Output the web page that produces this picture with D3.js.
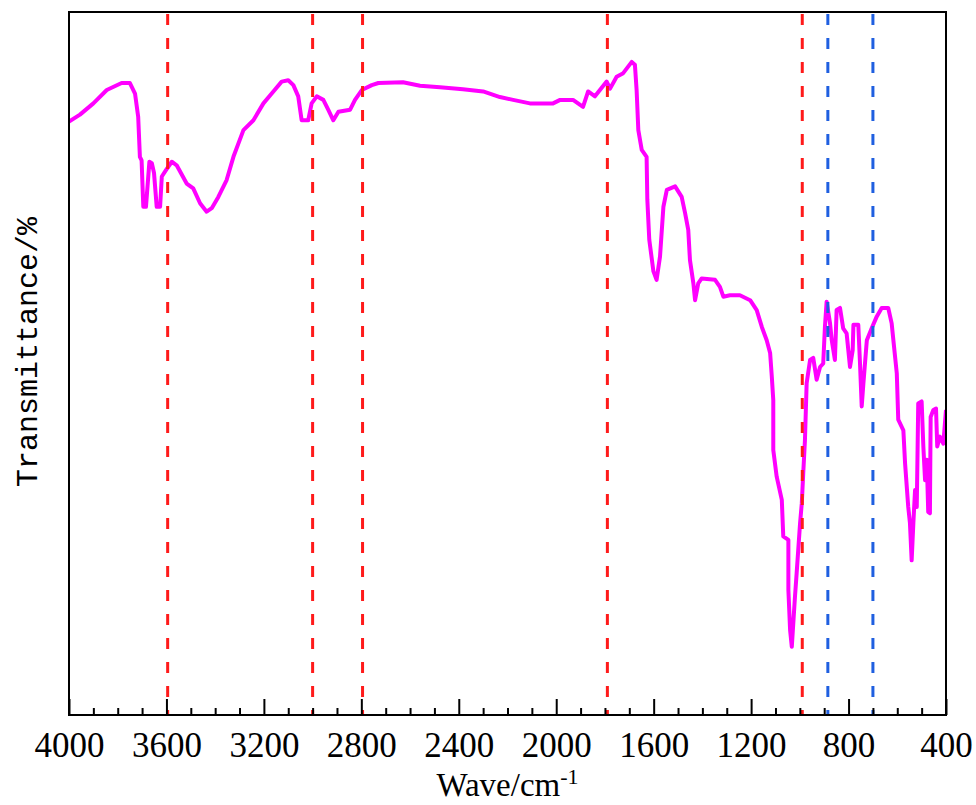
<!DOCTYPE html>
<html>
<head>
<meta charset="utf-8">
<script src="https://cdn.jsdelivr.net/npm/d3@7"></script>
<style>
  body { margin: 0; background: #fff; }
  svg { display: block; }
</style>
</head>
<body>
<div id="chart"></div>
<script>

// FTIR spectrum, wavenumber (cm-1) and relative transmittance
const waveNumbers = [4000, 3955, 3900, 3845, 3784, 3750, 3729, 3716, 3709, 3702, 3695, 3684,
    3670, 3660, 3651, 3640, 3626, 3619, 3602, 3578, 3558, 3517, 3490, 3462, 3435, 3414, 3387,
    3353, 3325, 3284, 3243, 3202, 3161, 3127, 3100, 3079, 3059, 3045, 3018, 3004, 2983, 2956,
    2936, 2915, 2894, 2846, 2826, 2798, 2757, 2730, 2629, 2559, 2477, 2383, 2300, 2231, 2177,
    2108, 2013, 1984, 1931, 1890, 1869, 1841, 1793, 1779, 1752, 1725, 1690, 1677, 1670, 1663,
    1649, 1629, 1626, 1618, 1601, 1588, 1574, 1560, 1546, 1512, 1485, 1471, 1458, 1451, 1437,
    1430, 1417, 1403, 1348, 1328, 1314, 1287, 1246, 1204, 1177, 1156, 1136, 1122, 1115, 1109,
    1109, 1095, 1074, 1068, 1047, 1047, 1040, 1033, 1020, 1013, 999, 992, 986, 979, 972, 958,
    945, 931, 917, 904, 897, 890, 876, 869, 856, 849, 835, 822, 808, 794, 783, 780, 760, 753,
    746, 739, 725, 705, 684, 664, 637, 623, 616, 602, 596, 575, 568, 555, 548, 541, 534, 527,
    520, 514, 500, 493, 486, 479, 473, 466, 463, 452, 441, 436, 425, 411, 400];

const transmittance = [84.4, 85.4, 87.0, 88.9, 89.9, 89.9, 88.4, 85.1, 79.4, 78.9, 72.3, 72.3,
    78.7, 78.5, 77.1, 72.3, 72.3, 76.6, 77.5, 78.7, 78.2, 75.6, 74.9, 72.8, 71.6, 72.1, 73.7,
    76.1, 79.4, 83.2, 84.6, 87.0, 88.7, 90.1, 90.3, 89.6, 88.0, 84.6, 84.6, 87.0, 88.0, 87.5,
    86.1, 84.6, 85.8, 86.1, 87.5, 88.9, 89.6, 89.9, 90.0, 89.5, 89.3, 89.0, 88.7, 87.9, 87.5,
    87.0, 87.0, 87.5, 87.5, 86.5, 88.7, 88.0, 90.1, 89.1, 90.8, 91.3, 92.9, 92.5, 88.9, 83.2,
    80.4, 79.4, 73.3, 67.6, 63.1, 61.9, 65.2, 72.3, 74.7, 75.2, 73.7, 71.4, 69.0, 64.7, 61.4,
    59.0, 61.4, 62.1, 61.9, 60.9, 59.5, 59.7, 59.7, 59.0, 57.6, 55.2, 53.3, 51.5, 48.1, 44.8,
    37.7, 33.9, 30.6, 25.4, 24.9, 17.8, 12.1, 9.7, 16.8, 20.2, 27.3, 30.1, 34.4, 39.1, 47.2, 50.5,
    50.8, 47.7, 49.5, 50.0, 55.2, 58.8, 55.7, 53.3, 50.5, 57.6, 57.9, 55.0, 54.3, 49.5, 51.9, 55.5, 55.5, 50.0,
    43.9, 47.2, 53.3, 55.0, 56.7, 57.9, 57.9, 55.7, 53.3, 48.6, 42.0, 40.5, 35.8, 29.6, 27.3, 22.0, 27.3, 32.0,
    29.6, 44.3, 44.6, 38.2, 33.4, 36.3, 28.9, 28.7, 42.4, 43.4, 43.6, 38.2, 39.6, 38.6, 43.4];

// marked bands
const redBands = [3595, 3000, 2795, 1790, 990];
const blueBands = [885, 700];

const majorTicks = [4000, 3600, 3200, 2800, 2400, 2000, 1600, 1200, 800, 400];
const minorTicks = d3.range(4000, 399, -100).filter(d => d % 400 !== 0);

const xTitle = "Wave/cm";
const xTitleSup = "-1";
const yTitle = "Transmittance/%";

const serif = "'Liberation Serif', 'Times New Roman', Times, serif";

const margin = {top: 12, right: 30, bottom: 90, left: 69};
const totalW = 976, totalH = 805;
const width = totalW - margin.left - margin.right;
const height = totalH - margin.top - margin.bottom;

const svg = d3.select("#chart").append("svg")
    .attr("width", totalW)
    .attr("height", totalH);

const g = svg.append("g")
    .attr("transform", `translate(${margin.left},${margin.top})`);

const x = d3.scaleLinear().domain([4000, 400]).range([0, width]);
const y = d3.scaleLinear().domain([0, 100]).range([height, 0]);

const data = waveNumbers.map((w, i) => ({w: w, t: transmittance[i]}));

g.append("clipPath").attr("id", "plot-clip")
    .append("rect").attr("width", width).attr("height", height);

// spectrum
const line = d3.line()
    .x(d => x(d.w))
    .y(d => y(d.t));

g.append("path")
    .datum(data)
    .attr("clip-path", "url(#plot-clip)")
    .attr("fill", "none")
    .attr("stroke", "#ff00ff")
    .attr("stroke-width", 4)
    .attr("stroke-linejoin", "round")
    .attr("d", line);

// dashed band markers
const bands = redBands.map(d => ({w: d, c: "#ff1a1a"}))
    .concat(blueBands.map(d => ({w: d, c: "#1f5fe0"})));

g.selectAll(".band")
    .data(bands)
    .enter().append("line")
    .attr("class", "band")
    .attr("x1", d => x(d.w))
    .attr("x2", d => x(d.w))
    .attr("y1", 0)
    .attr("y2", height)
    .attr("stroke", d => d.c)
    .attr("stroke-width", 3)
    .attr("stroke-dasharray", "11,13")
    .attr("stroke-dashoffset", -2);

// axes (ticks point inward)
const minorAxis = d3.axisBottom(x).tickValues(minorTicks).tickSize(-7).tickFormat("");
const majorAxis = d3.axisBottom(x).tickValues(majorTicks).tickSize(-16).tickPadding(17)
    .tickFormat(d3.format("d"));

const minorG = g.append("g")
    .attr("transform", `translate(0,${height})`)
    .call(minorAxis);

const majorG = g.append("g")
    .attr("transform", `translate(0,${height})`)
    .call(majorAxis)
    .attr("font-family", serif)
    .attr("font-size", 35);

[minorG, majorG].forEach(a => {
    a.select(".domain").remove();
    a.selectAll(".tick line").attr("stroke", "#000").attr("stroke-width", 2);
});

majorG.selectAll("text")
    .attr("fill", "#000")
    .attr("font-family", serif);

// frame
g.append("rect")
    .attr("width", width)
    .attr("height", height)
    .attr("fill", "none")
    .attr("stroke", "#000")
    .attr("stroke-width", 2);

// axis titles
const xt = svg.append("text")
    .attr("x", margin.left + width / 2)
    .attr("y", 796)
    .attr("text-anchor", "middle")
    .attr("font-family", serif)
    .attr("font-size", 33)
    .attr("fill", "#000");
xt.append("tspan").text(xTitle);
xt.append("tspan").attr("dy", -12).attr("font-size", 22).text(xTitleSup);

svg.append("text")
    .attr("transform", `translate(37,${margin.top + 340}) rotate(-90)`)
    .attr("text-anchor", "middle")
    .attr("font-family", "'Liberation Mono', 'Courier New', monospace")
    .attr("font-size", 30)
    .attr("fill", "#000")
    .text(yTitle);

</script>
</body>
</html>
